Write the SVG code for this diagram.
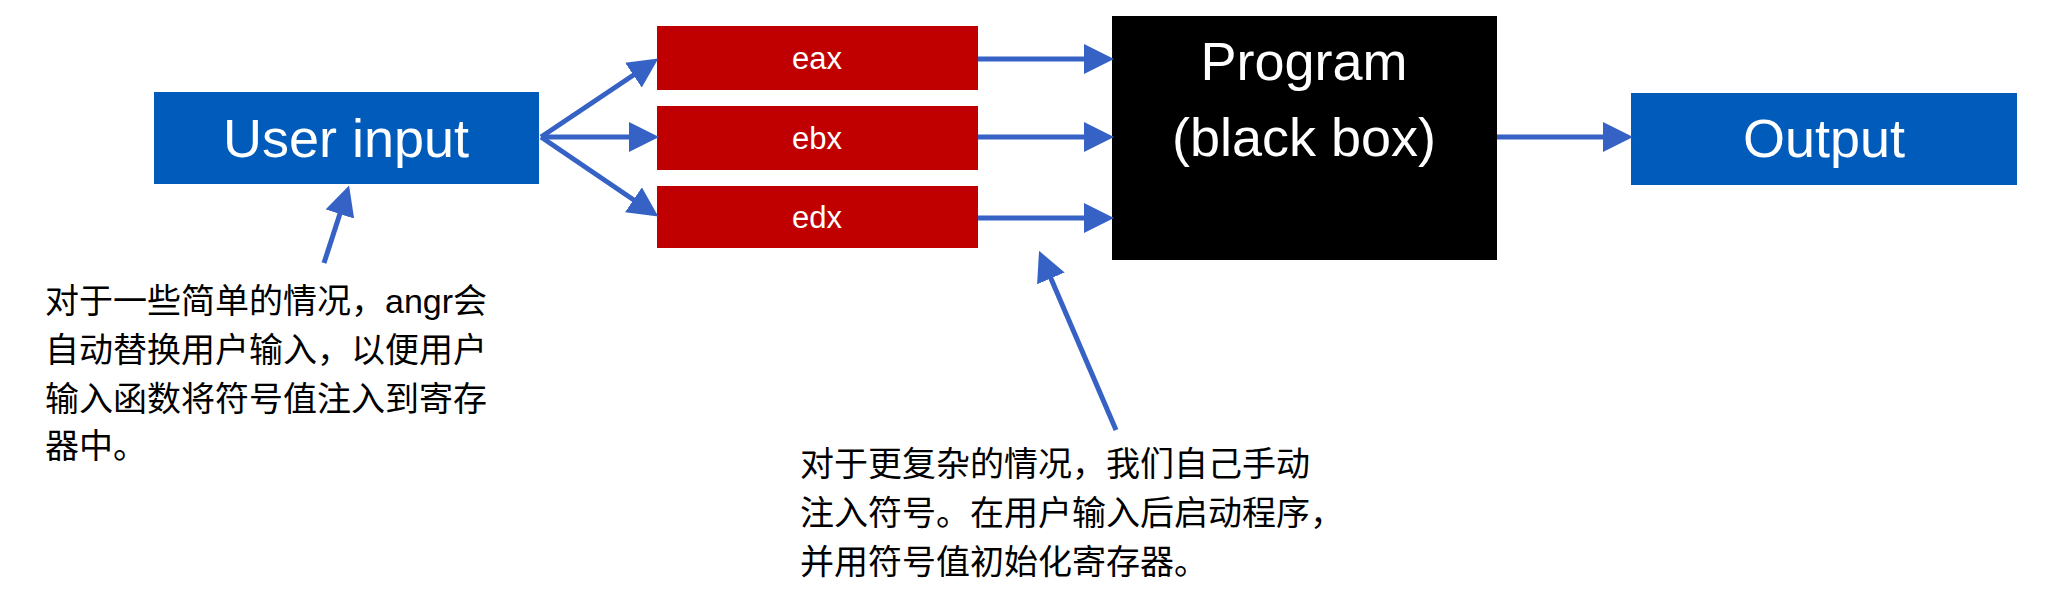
<svg xmlns="http://www.w3.org/2000/svg" width="2050" height="616" viewBox="0 0 2050 616">
<style>
.blue{fill:#005BBB}.red{fill:#C00000}
.lbl{font-family:"Helvetica Neue","Liberation Sans","Noto Sans",sans-serif;fill:#fff;text-anchor:middle;dominant-baseline:central}
.big{font-size:54px;font-weight:300}.sm{font-size:31px}
.note{font-family:"Liberation Sans","Noto Sans CJK SC",sans-serif;font-size:34px;fill:#000}
.c{stroke:#3562C4;stroke-width:5;fill:none;marker-end:url(#ah)}
</style>
<defs><marker id="ah" markerWidth="6" markerHeight="6" refX="4" refY="3" orient="auto" markerUnits="strokeWidth"><path d="M0,0 L6,3 L0,6 z" fill="#3562C4"/></marker></defs>
<rect width="2050" height="616" fill="#fff"/>
<g id="user"><rect class="blue" x="154" y="92" width="385" height="92"/><text class="lbl big" x="346" y="138">User input</text></g>
<g id="eax"><rect class="red" x="657" y="26" width="321" height="64"/><text class="lbl sm" x="817" y="58">eax</text></g>
<g id="ebx"><rect class="red" x="657" y="106" width="321" height="64"/><text class="lbl sm" x="817" y="138">ebx</text></g>
<g id="edx"><rect class="red" x="657" y="186" width="321" height="62"/><text class="lbl sm" x="817" y="217">edx</text></g>
<g id="program"><rect fill="#000" x="1112" y="16" width="385" height="244"/><text class="lbl big" x="1304" y="61">Program</text><text class="lbl big" x="1304" y="137">(black box)</text></g>
<g id="output"><rect class="blue" x="1631" y="93" width="386" height="92"/><text class="lbl big" x="1824" y="138">Output</text></g>
<g id="note1"><text class="note" x="45" y="313">对于一些简单的情况，angr会</text><text class="note" x="45" y="362">自动替换用户输入，以便用户</text><text class="note" x="45" y="411">输入函数将符号值注入到寄存</text><text class="note" x="45" y="458">器中。</text></g>
<g id="note2"><text class="note" x="800" y="476">对于更复杂的情况，我们自己手动</text><text class="note" x="800" y="525">注入符号。在用户输入后启动程序，</text><text class="note" x="800" y="574">并用符号值初始化寄存器。</text></g>
<g id="connectors">
<line class="c" x1="541" y1="137" x2="650" y2="64"/>
<line class="c" x1="541" y1="137" x2="649" y2="137"/>
<line class="c" x1="541" y1="137" x2="650" y2="211"/>
<line class="c" x1="978" y1="59" x2="1104" y2="59"/>
<line class="c" x1="978" y1="137" x2="1104" y2="137"/>
<line class="c" x1="978" y1="218" x2="1104" y2="218"/>
<line class="c" x1="1497" y1="137" x2="1623" y2="137"/>
<line class="c" x1="324" y1="263" x2="346" y2="195"/>
<line class="c" x1="1116" y1="430" x2="1043" y2="260"/>
</g>
</svg>
